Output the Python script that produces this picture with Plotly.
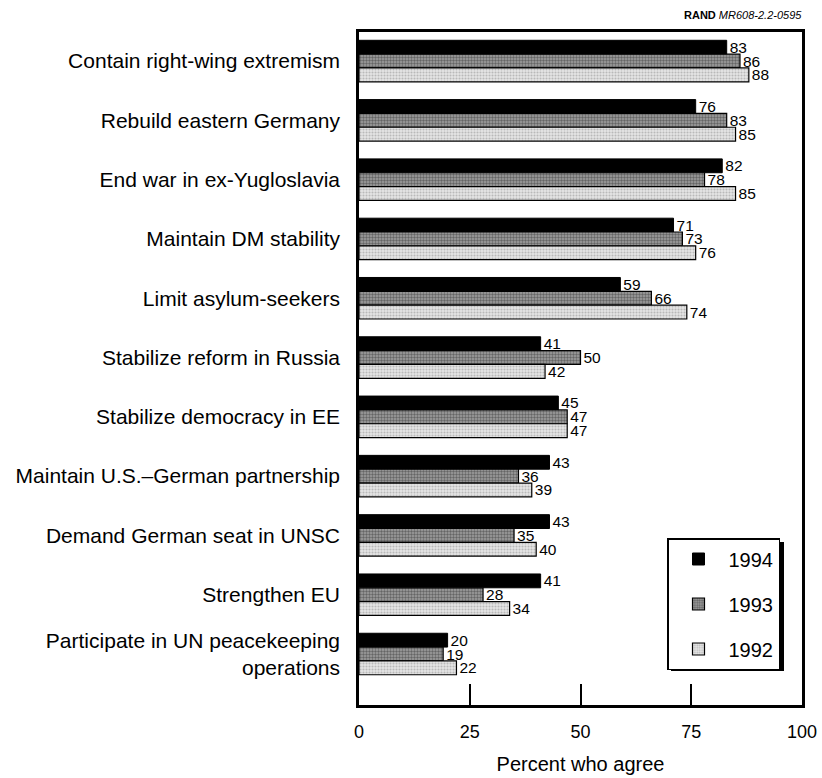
import plotly.graph_objects as go

categories = [
    "Contain right-wing extremism",
    "Rebuild eastern Germany",
    "End war in ex-Yugloslavia",
    "Maintain DM stability",
    "Limit asylum-seekers",
    "Stabilize reform in Russia",
    "Stabilize democracy in EE",
    "Maintain U.S.–German partnership",
    "Demand German seat in UNSC",
    "Strengthen EU",
    "Participate in UN peacekeeping<br>operations",
]
values_1994 = [83, 76, 82, 71, 59, 41, 45, 43, 43, 41, 20]
values_1993 = [86, 83, 78, 73, 66, 50, 47, 36, 35, 28, 19]
values_1992 = [88, 85, 85, 76, 74, 42, 47, 39, 40, 34, 22]
x_ticks = [0, 25, 50, 75, 100]

FONT = "Liberation Sans, Arial, Helvetica, sans-serif"
pos = list(range(len(categories)))

series = [
    ("1994", values_1994, dict(color="black", line=dict(color="black", width=1))),
    ("1993", values_1993, dict(color="#8a8a8a", line=dict(color="black", width=1.2),
                               pattern=dict(shape=".", fgcolor="#2a2a2a", bgcolor="#a0a0a0", size=3, solidity=0.5))),
    ("1992", values_1992, dict(color="#d0d0d0", line=dict(color="black", width=1.2),
                               pattern=dict(shape=".", fgcolor="#8c8c8c", bgcolor="#e6e6e6", size=3, solidity=0.4))),
]

fig = go.Figure()
for name, vals, marker in series:
    fig.add_trace(go.Bar(
        name=name, y=pos, x=vals, orientation="h", marker=marker,
        text=[str(v) for v in vals], textposition="outside", constraintext="none",
        textfont=dict(family=FONT, size=15.5, color="black"), cliponaxis=False,
        legendgroup=name,
    ))

# plot area in pixels: x 359..802, y 32..705
PW, PH = 443.0, 673.0
def px(x):
    return (x - 359) / PW
def py(y):
    return (705 - y) / PH

fig.update_layout(
    width=822, height=778,
    margin=dict(l=359, r=20, t=32, b=73, autoexpand=False),
    paper_bgcolor="white", plot_bgcolor="white",
    barmode="group", bargap=0.3, bargroupgap=0,
    font=dict(family=FONT, color="black"),
    showlegend=True,
    legend=dict(
        x=px(667), y=py(538), xanchor="left", yanchor="top",
        bordercolor="black", borderwidth=1.5, bgcolor="white",
        font=dict(family=FONT, size=20, color="black"),
        traceorder="grouped", tracegroupgap=16, itemwidth=50,
    ),
    xaxis=dict(
        range=[0, 100], tickvals=x_ticks, ticktext=[str(t) for t in x_ticks],
        ticks="inside", ticklen=21, tickwidth=2, tickcolor="black",
        showgrid=False, zeroline=False, automargin=False,
        showline=True, linecolor="black", linewidth=2.5, mirror=True,
        tickfont=dict(family=FONT, size=18, color="black"),
        ticklabelstandoff=9,
        title=dict(text="Percent who agree", font=dict(family=FONT, size=20, color="black"), standoff=16),
    ),
    yaxis=dict(
        range=[10.86, -0.49], tickvals=pos, ticktext=categories,
        ticks="", showgrid=False, zeroline=False, automargin=False,
        showline=True, linecolor="black", linewidth=2.5, mirror=True,
        tickfont=dict(family=FONT, size=21, color="black"),
        ticklabelstandoff=12,
    ),
    shapes=[dict(
        type="rect", xref="paper", yref="paper",
        x0=px(671), x1=px(784), y0=py(671), y1=py(542),
        fillcolor="black", line=dict(width=0), layer="above",
    )],
    annotations=[dict(
        xref="paper", yref="paper", x=px(804), y=py(15), xanchor="right", yanchor="middle",
        text="<b>RAND</b> <i>MR608-2.2-0595</i>", showarrow=False,
        font=dict(family=FONT, size=11, color="black"),
    )],
)

fig.write_html("out.html", config={"displayModeBar": False},
               post_script="document.body.style.margin='0';document.body.style.padding='0';")
